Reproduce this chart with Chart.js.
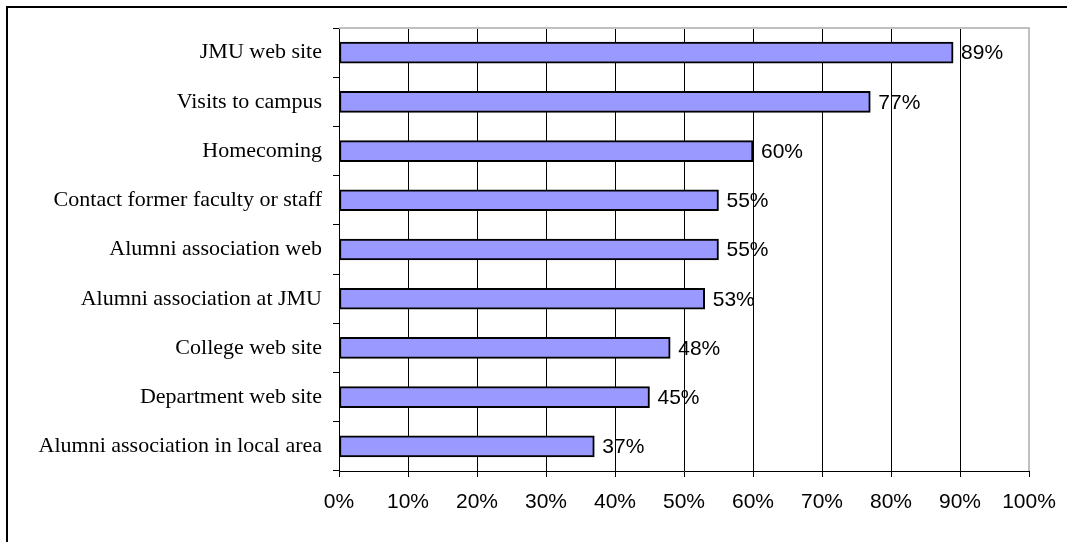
<!DOCTYPE html>
<html>
<head>
<meta charset="utf-8">
<script src="https://cdn.jsdelivr.net/npm/chart.js@4"></script>
<style>
  html, body { margin: 0; padding: 0; background: #fff; overflow: hidden; }
  #wrap { position: relative; width: 1067px; height: 542px; }
  #frame { position: absolute; left: 6px; top: 6px; width: 2000px; height: 2000px; border: 2px solid #000; box-sizing: border-box; pointer-events: none; }
</style>
</head>
<body>
<div id="wrap">
  <canvas id="myChart" width="1067" height="542"></canvas>
  <div id="frame"></div>
</div>
<script>
const categories = [
  "JMU web site",
  "Visits to campus",
  "Homecoming",
  "Contact former faculty or staff",
  "Alumni association web",
  "Alumni association at JMU",
  "College web site",
  "Department web site",
  "Alumni association in local area"
];
const values = [89, 77, 60, 55, 55, 53, 48, 45, 37];
const xTicks = [0, 10, 20, 30, 40, 50, 60, 70, 80, 90, 100];

// value labels to the right of each bar
const valueLabels = {
  id: "valueLabels",
  afterDatasetsDraw(chart) {
    const ctx = chart.ctx;
    const meta = chart.getDatasetMeta(0);
    ctx.save();
    ctx.font = "21px 'Liberation Sans', Arial, sans-serif";
    ctx.fillStyle = "#000";
    ctx.textAlign = "left";
    ctx.textBaseline = "middle";
    meta.data.forEach((bar, i) => {
      ctx.fillText(values[i] + "%", bar.x + 8, bar.y + 1);
    });
    ctx.restore();
  }
};

// light grey plot-area border (top and right)
const plotBorder = {
  id: "plotBorder",
  beforeDatasetsDraw(chart) {
    const a = chart.chartArea;
    const ctx = chart.ctx;
    ctx.save();
    ctx.strokeStyle = "#c0c0c0";
    ctx.lineWidth = 2;
    ctx.beginPath();
    ctx.moveTo(a.left, a.top);
    ctx.lineTo(a.right, a.top);
    ctx.lineTo(a.right, a.bottom);
    ctx.stroke();
    ctx.restore();
  }
};

const config = {
  type: "bar",
  data: {
    labels: categories,
    datasets: [
      {
        data: values,
        backgroundColor: "#9999ff",
        borderColor: "#000",
        borderWidth: 2,
        borderSkipped: false,
        barThickness: 21,
      },
    ],
  },
  options: {
    indexAxis: "y",
    responsive: false,
    animation: false,
    layout: { padding: { top: 28, right: 38, left: 0, bottom: 0 } },
    plugins: {
      legend: { display: false },
      tooltip: { enabled: false },
    },
    scales: {
      x: {
        min: 0,
        max: 100,
        afterFit(scale) {
          scale.height = 71;
          scale.paddingLeft = 0;
          scale.paddingRight = 0;
        },
        afterBuildTicks(scale) { scale.ticks = xTicks.map(v => ({ value: v })); },
        ticks: {
          color: "#000",
          padding: 13,
          maxRotation: 0,
          font: { family: "'Liberation Sans', Arial, sans-serif", size: 21 },
          callback: (v) => v + "%",
        },
        grid: {
          color: (c) => (c.tick && c.tick.value === 100 ? "#c0c0c0" : "#000"),
          tickColor: "#000",
          tickLength: 6,
          lineWidth: 1,
        },
        border: { display: true, color: "#000", width: 1 },
      },
      y: {
        afterFit(scale) { scale.width = 339; },
        ticks: {
          color: "#000",
          padding: 11,
          font: { family: "'Liberation Serif', 'Times New Roman', serif", size: 22 },
        },
        grid: {
          drawOnChartArea: false,
          drawTicks: true,
          tickLength: 6,
          tickColor: "#000",
          offset: true,
        },
        border: { display: true, color: "#000", width: 1 },
      },
    },
  },
  plugins: [plotBorder, valueLabels],
};

var myChart = new Chart(document.getElementById("myChart"), config);
</script>
</body>
</html>
